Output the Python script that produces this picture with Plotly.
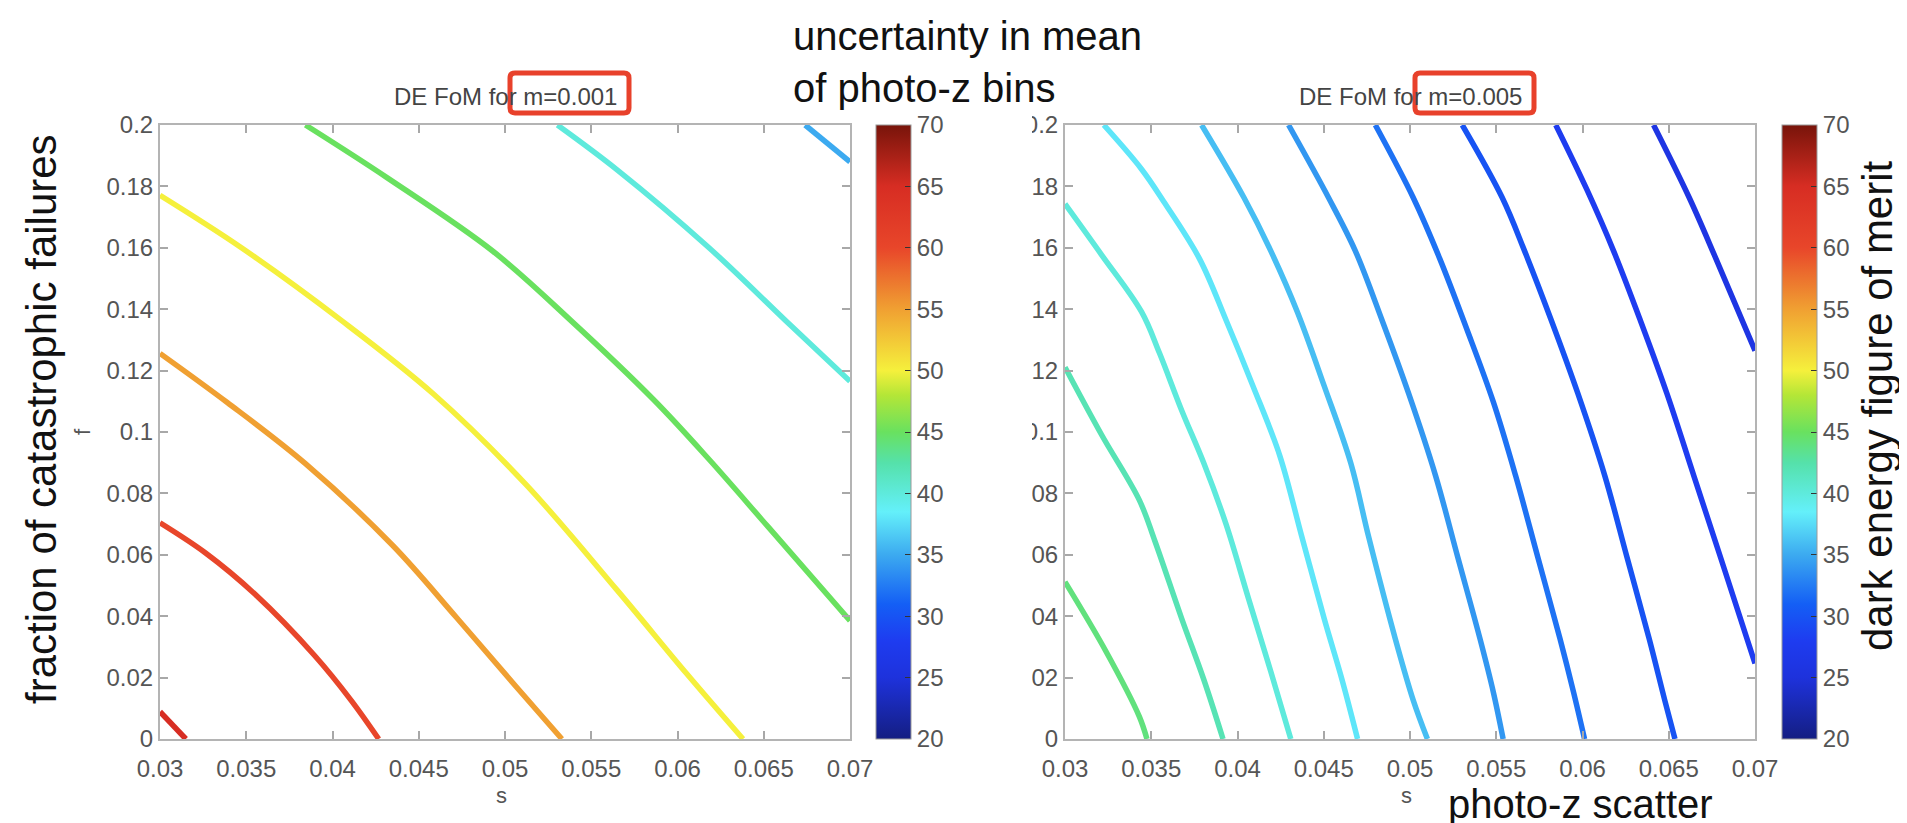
import plotly.graph_objects as go
from plotly.colors import sample_colorscale

W, H = 1907, 823

# ---------------- data ----------------
s_ticks = [0.03, 0.035, 0.04, 0.045, 0.05, 0.055, 0.06, 0.065, 0.07]
s_tick_labels = ["0.03", "0.035", "0.04", "0.045", "0.05", "0.055", "0.06", "0.065", "0.07"]
f_ticks = [0, 0.02, 0.04, 0.06, 0.08, 0.1, 0.12, 0.14, 0.16, 0.18, 0.2]
f_tick_labels = ["0", "0.02", "0.04", "0.06", "0.08", "0.1", "0.12", "0.14", "0.16", "0.18", "0.2"]
fom_ticks = [20, 25, 30, 35, 40, 45, 50, 55, 60, 65, 70]
fom_range = [20, 70]

# left panel: m = 0.001  (contour lines, s vs f)
m001_levels = [65, 60, 55, 50, 45, 40, 35]
m001_s = [
    [0.03, 0.0315],
    [0.03, 0.03266, 0.0355, 0.03896, 0.04108, 0.04268],
    [0.03, 0.0339, 0.03843, 0.04348, 0.0472, 0.05065, 0.0533],
    [0.03, 0.0347, 0.04055, 0.04587, 0.05118, 0.0565, 0.0605, 0.0638],
    [0.03843, 0.0432, 0.04932, 0.05384, 0.05862, 0.06181, 0.06527, 0.07],
    [0.05304, 0.0565, 0.06181, 0.0666, 0.07],
    [0.0674, 0.07],
]
m001_f = [
    [0.0089, 0.0],
    [0.0704, 0.0605, 0.0472, 0.0272, 0.0126, 0.0],
    [0.1256, 0.1096, 0.0897, 0.0631, 0.0395, 0.0170, 0.0],
    [0.1771, 0.1601, 0.1362, 0.1123, 0.0831, 0.0485, 0.0215, 0.0],
    [0.2, 0.1827, 0.1588, 0.1362, 0.1105, 0.0912, 0.0690, 0.0385],
    [0.2, 0.1854, 0.1601, 0.1345, 0.1165],
    [0.2, 0.188],
]

# right panel: m = 0.005
m005_levels = [44, 42, 40, 38, 36, 34, 32, 30, 28, 26]
m005_s = [
    [0.03, 0.03237, 0.03431, 0.03475],
    [0.03, 0.03212, 0.03431, 0.03521, 0.03676, 0.03805, 0.03916],
    [0.03, 0.03212, 0.03444, 0.03547, 0.03676, 0.03805, 0.03934, 0.04063, 0.04193, 0.04309],
    [0.03225, 0.03444, 0.03573, 0.0378, 0.03934, 0.04089, 0.04244, 0.04373, 0.04502, 0.04606, 0.04696],
    [0.03792, 0.04038, 0.04193, 0.04347, 0.04502, 0.04657, 0.0476, 0.04915, 0.05019, 0.05101],
    [0.04296, 0.04528, 0.04683, 0.04838, 0.04993, 0.05148, 0.05277, 0.05406, 0.05483, 0.0554],
    [0.04799, 0.05019, 0.05173, 0.05328, 0.05483, 0.05612, 0.05741, 0.0587, 0.05948, 0.06012],
    [0.05303, 0.05535, 0.05664, 0.05819, 0.05974, 0.06129, 0.06258, 0.06387, 0.06477, 0.06536],
    [0.05845, 0.06025, 0.0618, 0.06335, 0.0649, 0.06645, 0.068, 0.07],
    [0.06412, 0.06619, 0.06774, 0.07],
]
m005_f = [
    [0.0512, 0.0286, 0.0073, 0.0],
    [0.1211, 0.0991, 0.0778, 0.0645, 0.0393, 0.0193, 0.0],
    [0.1743, 0.1577, 0.1391, 0.1258, 0.1071, 0.0898, 0.0699, 0.0459, 0.022, 0.0],
    [0.2, 0.1856, 0.175, 0.1564, 0.1364, 0.1151, 0.0925, 0.0659, 0.0393, 0.0193, 0.0],
    [0.2, 0.1763, 0.159, 0.1391, 0.1151, 0.0898, 0.0659, 0.0326, 0.0126, 0.0],
    [0.2, 0.1763, 0.159, 0.1364, 0.1124, 0.0858, 0.0592, 0.0326, 0.0153, 0.0],
    [0.2, 0.1763, 0.1564, 0.1337, 0.1098, 0.0858, 0.0592, 0.0326, 0.0153, 0.0],
    [0.2, 0.1763, 0.159, 0.1364, 0.1124, 0.0858, 0.0592, 0.0326, 0.0126, 0.0],
    [0.2, 0.179, 0.159, 0.1364, 0.1124, 0.0858, 0.0592, 0.0246],
    [0.2, 0.1763, 0.1564, 0.1265],
]

panel_titles = ["DE FoM for m=0.001", "DE FoM for m=0.005"]

# ---------------- styling / layout ----------------
jet = [
    [0.00, "rgb(20,30,130)"],
    [0.10, "rgb(30,50,220)"],
    [0.16, "rgb(30,60,240)"],
    [0.22, "rgb(20,95,245)"],
    [0.30, "rgb(60,170,240)"],
    [0.37, "rgb(100,240,250)"],
    [0.45, "rgb(85,225,170)"],
    [0.50, "rgb(105,225,95)"],
    [0.56, "rgb(180,230,55)"],
    [0.60, "rgb(245,240,60)"],
    [0.70, "rgb(240,160,50)"],
    [0.80, "rgb(232,70,42)"],
    [0.90, "rgb(215,45,35)"],
    [1.00, "rgb(120,20,10)"],
]

FONT = "Liberation Sans, Arial, Helvetica, sans-serif"
TICK_GREY = "#555555"

L_X0, L_X1 = 152, 842
R_X0, R_X1 = 1057, 1747
Y_TOP, Y_BOT = 117, 731
CB_L, CB_R = 868, 1774
CB_THICK = 35


def px(xp):
    return xp / W


def py(yp):
    return 1 - yp / H


fig = go.Figure()


def norm(v):
    return (v - fom_range[0]) / (fom_range[1] - fom_range[0])


def add_panel(levels, s_lines, f_lines, xa, ya, width):
    colors = sample_colorscale(jet, [norm(l) for l in levels])
    for lvl, s, f, c in zip(levels, s_lines, f_lines, colors):
        fig.add_trace(go.Scatter(
            x=s, y=f, mode="lines", xaxis=xa, yaxis=ya,
            line=dict(color=c, width=width, shape="spline", smoothing=1.0),
            name=f"FoM {lvl}", showlegend=False,
            hovertemplate="s=%{x}<br>f=%{y}<extra>FoM " + str(lvl) + "</extra>",
        ))


add_panel(m001_levels, m001_s, m001_f, "x", "y", 5.5)
add_panel(m005_levels, m005_s, m005_f, "x2", "y2", 5.5)


def add_colorbar(xa, ya, x_px):
    fig.add_trace(go.Scatter(
        x=[None], y=[None], mode="markers", xaxis=xa, yaxis=ya,
        showlegend=False, hoverinfo="skip",
        marker=dict(
            color=[fom_range[0]], cmin=fom_range[0], cmax=fom_range[1],
            colorscale=jet, showscale=True,
            colorbar=dict(
                x=px(x_px), xanchor="left", xpad=0,
                y=py(Y_TOP), yanchor="top", ypad=0,
                len=(Y_BOT - Y_TOP) / H, lenmode="fraction",
                thickness=CB_THICK, thicknessmode="pixels",
                tickmode="array", tickvals=fom_ticks,
                ticktext=[str(t) for t in fom_ticks],
                ticks="inside", ticklen=6, tickcolor="#333333", tickwidth=1,
                outlinecolor="#9a9a9a", outlinewidth=1,
                tickfont=dict(family=FONT, size=24, color=TICK_GREY),
            ),
        ),
    ))


add_colorbar("x", "y", CB_L)
add_colorbar("x2", "y2", CB_R)

axis_common = dict(
    showline=True, linecolor="#b4b4b4", linewidth=2, mirror="ticks",
    ticks="inside", ticklen=8, tickcolor="#a8a8a8", tickwidth=1.5,
    showgrid=False, zeroline=False, automargin=False,
    tickfont=dict(family=FONT, size=24, color=TICK_GREY),
)
xcommon = dict(axis_common, range=[0.03, 0.07], tickmode="array",
               tickvals=s_ticks, ticktext=s_tick_labels, ticklabelstandoff=7)
ycommon = dict(axis_common, range=[0, 0.2], tickmode="array",
               tickvals=f_ticks, ticktext=f_tick_labels)

fig.update_layout(
    width=W, height=H, autosize=False,
    margin=dict(l=0, r=0, t=0, b=0, pad=0, autoexpand=False),
    paper_bgcolor="white", plot_bgcolor="white",
    xaxis=dict(xcommon, domain=[px(L_X0), px(L_X1)], anchor="y"),
    yaxis=dict(ycommon, domain=[py(Y_BOT), py(Y_TOP)], anchor="x"),
    xaxis2=dict(xcommon, domain=[px(R_X0), px(R_X1)], anchor="y2"),
    yaxis2=dict(ycommon, domain=[py(Y_BOT), py(Y_TOP)], anchor="x2"),
)

annotations = []
shapes = []
for title, (x0, x1) in zip(panel_titles, [(L_X0, L_X1), (R_X0, R_X1)]):
    cx = (x0 + x1) / 2
    annotations.append(dict(
        text=title, x=px(cx), y=py(88), xref="paper", yref="paper",
        xanchor="center", yanchor="middle", showarrow=False,
        font=dict(family=FONT, size=24, color="#444444"),
    ))
    # red highlight box round the m value
    bx0, bx1, by0, by1, r = cx + 5, cx + 124, 65, 105, 5
    path = (
        f"M {px(bx0 + r)},{py(by0)} L {px(bx1 - r)},{py(by0)} "
        f"Q {px(bx1)},{py(by0)} {px(bx1)},{py(by0 + r)} "
        f"L {px(bx1)},{py(by1 - r)} Q {px(bx1)},{py(by1)} {px(bx1 - r)},{py(by1)} "
        f"L {px(bx0 + r)},{py(by1)} Q {px(bx0)},{py(by1)} {px(bx0)},{py(by1 - r)} "
        f"L {px(bx0)},{py(by0 + r)} Q {px(bx0)},{py(by0)} {px(bx0 + r)},{py(by0)} Z"
    )
    shapes.append(dict(type="path", path=path, xref="paper", yref="paper",
                       line=dict(color="#e8412b", width=5), layer="above"))
    annotations.append(dict(
        text="s", x=px(cx - 4), y=py(787), xref="paper", yref="paper",
        xanchor="center", yanchor="middle", showarrow=False,
        font=dict(family=FONT, size=22, color=TICK_GREY),
    ))

annotations.append(dict(
    text="f", x=px(75), y=py(424), xref="paper", yref="paper", textangle=-90,
    xanchor="center", yanchor="middle", showarrow=False,
    font=dict(family=FONT, size=22, color=TICK_GREY),
))

BIG = dict(family=FONT, size=42, color="#111111")
annotations += [
    dict(text="uncertainty in mean<br>of photo-z bins", x=px(783), y=py(54),
         xref="paper", yref="paper", align="left",
         xanchor="left", yanchor="middle", showarrow=False,
         font=dict(BIG, size=40)),
    dict(text="photo-z scatter", x=px(1438), y=py(796), xref="paper", yref="paper",
         xanchor="left", yanchor="middle", showarrow=False,
         font=dict(BIG, size=40)),
    dict(text="fraction of catastrophic failures", x=px(34), y=py(411),
         xref="paper", yref="paper", textangle=-90,
         xanchor="center", yanchor="middle", showarrow=False, font=BIG),
    dict(text="dark energy figure of merit", x=px(1869), y=py(398),
         xref="paper", yref="paper", textangle=-90,
         xanchor="center", yanchor="middle", showarrow=False, font=BIG),
]

# the slide crops the left part of the right panel's f tick labels
shapes.append(dict(type="rect", xref="paper", yref="paper",
                   x0=px(960), x1=px(1024), y0=py(100), y1=py(740),
                   fillcolor="white", line=dict(width=0), layer="above"))

fig.update_layout(annotations=annotations, shapes=shapes)

fig.write_html("out.html")
